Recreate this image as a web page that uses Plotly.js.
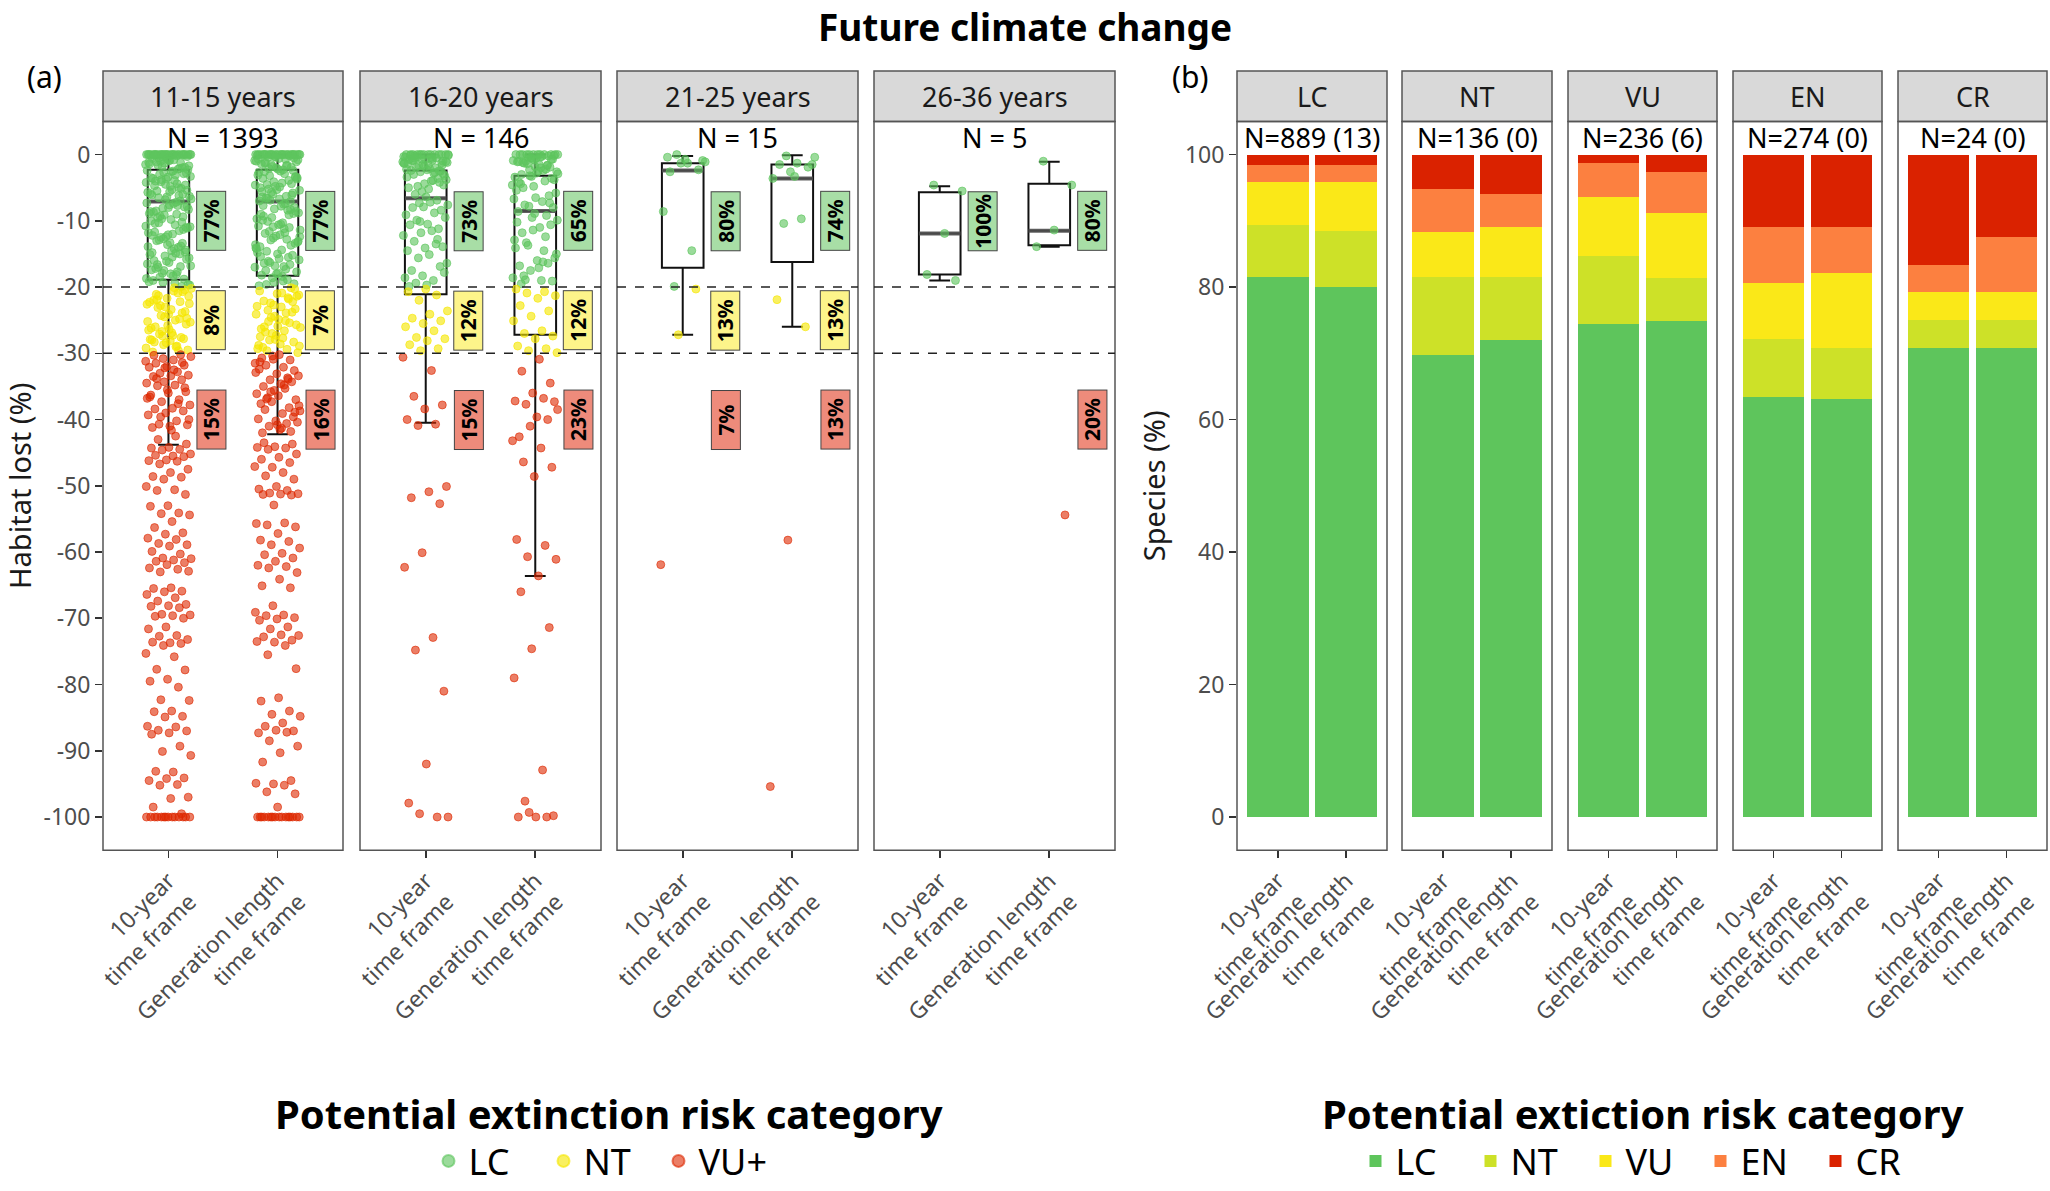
<!DOCTYPE html>
<html>
<head>
<meta charset="utf-8">
<script src="https://cdn.plot.ly/plotly-3.0.1.min.js"></script>
<style>html,body{margin:0;padding:0;background:#fff}#chart{width:2050px;height:1191px}</style>
</head>
<body>
<div id="chart"></div>
<script>
// ---------------- DATA ----------------
const timeframes = ['10-year<br>time frame', 'Generation length<br>time frame'];
const lengthGroups = ['11-15 years', '16-20 years', '21-25 years', '26-36 years'];
const groupN = ['N = 1393', 'N = 146', 'N = 15', 'N = 5'];
const riskCats = ['LC', 'NT', 'VU+'];
const thresholds = [-20, -30];
const lossTickVals = [0, -10, -20, -30, -40, -50, -60, -70, -80, -90, -100];
const lossTickText = ['0', '-10', '-20', '-30', '-40', '-50', '-60', '-70', '-80', '-90', '-100'];

// Habitat lost (%) per species (subset of readable points; dense bands estimated)
const loss_11_15_tf10 = [
 0,0,0,0,0,0,0,0,0,0,0,0,0,0,0,0,0,0,0,0,0,0,0,0,0,0,0,0,
 -0.2,-0.5,-0.3,-0.9,-0.6,-1.2,-0.4,-1.5,-0.8,-1.1,-1.9,-0.7,-1.4,-2.2,-1.0,-1.7,-2.6,-0.1,-2.0,-1.3,-2.4,-3.1,-1.6,-2.8,-0.9,-3.5,-2.1,-1.8,-3.3,-2.5,
 -4.0,-2.9,-3.7,-1.2,-4.4,-3.0,-2.3,-4.8,-3.6,-5.1,-2.7,-4.2,-3.9,-5.5,-4.6,-3.4,-5.9,-5.0,-4.1,-6.3,-5.3,-4.7,-6.0,-6.8,-5.7,-7.2,-6.5,-5.4,-7.6,-6.1,
 -7.0,-8.1,-6.7,-7.4,-8.5,-7.9,-6.4,-8.9,-7.7,-9.3,-8.3,-9.8,-8.7,-10.2,-9.1,-7.3,-10.6,-9.5,-11.0,-8.0,-10.0,-11.5,-9.7,-10.9,-12.0,-10.4,-11.3,-12.4,-11.8,-9.0,
 -12.9,-11.1,-13.3,-12.2,-13.8,-12.7,-10.8,-14.2,-13.0,-14.7,-13.6,-15.1,-14.0,-12.5,-15.6,-14.5,-16.0,-13.4,-15.3,-16.5,-14.9,-17.0,-15.8,-16.3,-17.4,-15.0,-17.9,-16.8,-18.3,-17.2,
 -18.8,-16.1,-19.2,-17.7,-18.5,-19.6,-18.0,-19.0,-19.9,-17.5,-18.7,-19.4,-16.6,-14.4,-12.1,-8.6,-6.2,-3.8,-19.7,-15.5,-11.7,-9.4,-4.5,-13.9,-18.1,-10.3,-7.8,-5.6,-14.8,-16.9,-19.3,
 -20.2,-20.6,-21.1,-20.4,-21.7,-22.3,-20.9,-22.8,-21.4,-23.4,-22.0,-23.9,-24.5,-22.6,-25.0,-23.1,-25.6,-24.1,-26.2,-24.8,-26.7,-25.3,-27.3,-26.0,-27.8,-28.4,-26.5,-28.9,-27.1,-29.5,
 -28.1,-29.8,-27.6,-28.7,-29.2,-20.1,-21.9,-23.7,-25.8,-27.9,-29.6,-24.3,-22.5,-26.9,-28.3,-20.7,-23.0,-25.2,-29.0,-21.3,-24.7,-26.4,-28.0,-22.2,-27.4,
 -30.5,-31.0,-31.5,-31.8,-32.0,-32.1,-32.8,-33.0,-33.3,-33.4,-33.5,-34.0,-34.3,-34.5,-34.8,-34.9,-35.8,-36.0,-36.3,-37.0,-37.3,-37.8,-38.3,-38.4,-38.7,-39.0,-39.3,-40.2,-40.7,-40.8,
 -41.0,-41.2,-30.2,-30.8,-31.2,-32.5,-33.8,-35.2,-35.5,-36.6,-37.6,-39.6,-40.0,-41.6,-30.3,-31.4,-32.2,-36.8,-42.5,-43.0,
 -43.7,-44.2,-44.3,-44.5,-44.6,-45.2,-45.5,-45.4,-45.6,-46.1,-46.2,-46.3,-46.7,-47.5,-48.0,-48.6,-48.7,-49.0,-50.1,-50.6,-50.7,-51.3,-53.0,-53.1,-54.1,-54.2,-54.4,-55.4,-56.3,-57.1,
 -57.3,-57.9,-58.1,-58.7,-58.9,-59.1,-59.9,-60.3,-60.9,-61.0,-61.2,-61.4,-61.6,-61.9,-62.4,-62.6,-63.0,-62.9,-65.4,-65.5,-65.9,-66.0,-66.4,-66.9,-67.4,-67.9,-68.1,-68.2,-68.4,-69.4,
 -69.5,-69.6,-69.7,-70.0,-71.3,-71.6,-72.6,-72.7,-73.2,-73.7,-73.6,-73.8,-74.1,-75.3,-75.8,-77.7,-77.8,-79.2,-79.5,-80.4,-82.3,-82.4,-84.0,-84.1,-84.8,-84.9,-86.3,-86.4,-86.9,-87.0,
 -87.3,-87.5,-89.3,-90.1,-90.7,-93.2,-93.1,-94.1,-94.2,-94.5,-95.1,-95.2,-97.0,-97.2,-98.5,-99.5,
 -100,-100,-100,-100,-100,-100,-100,-100,-100,-100,-100,-100,-100,-100
];
const loss_11_15_gen = [
 0,0,0,0,0,0,0,0,0,0,0,0,0,0,0,0,0,0,0,0,0,0,0,0,0,0,
 -0.3,-0.1,-0.7,-0.4,-1.1,-0.6,-1.4,-0.2,-1.8,-0.9,-2.3,-1.2,-0.5,-2.0,-2.7,-1.6,-3.2,-0.8,-2.5,-3.6,-1.9,-4.1,-1.0,-2.9,-4.5,-3.4,-2.2,-5.0,-3.9,-1.5,
 -5.4,-4.3,-2.6,-5.8,-4.8,-3.1,-6.3,-5.2,-3.7,-6.7,-5.6,-7.1,-6.0,-4.6,-7.5,-6.5,-8.0,-5.3,-7.0,-8.4,-6.9,-8.8,-7.8,-9.3,-6.1,-8.2,-9.7,-7.4,-10.1,-8.6,
 -10.6,-9.0,-11.0,-9.5,-11.4,-10.3,-11.9,-8.9,-12.3,-10.8,-12.8,-11.6,-13.2,-12.1,-9.9,-13.7,-12.6,-14.1,-11.2,-14.6,-13.4,-15.0,-13.9,-15.5,-12.9,-15.9,-14.4,-16.4,-15.2,-16.8,
 -14.8,-17.3,-16.1,-17.7,-15.7,-18.2,-16.6,-18.6,-17.0,-19.1,-17.5,-19.5,-18.0,-19.8,-18.9,-16.3,-13.1,-10.5,-7.7,-4.4,-19.3,-14.2,-11.8,-6.6,-3.3,-17.9,-15.4,-9.1,-5.7,-12.4,
 -18.4,-1.3,-2.4,-0.35,-0.65,-1.7,-2.1,-3.5,-4.9,-6.4,-8.3,-10.9,-13.6,-16.9,-19.6,
 -20.3,-21.0,-20.6,-21.6,-22.4,-21.2,-23.0,-22.1,-23.8,-24.4,-22.9,-25.1,-23.5,-25.7,-24.9,-26.3,-25.4,-27.0,-26.1,-27.7,-26.8,-28.3,-27.3,-28.8,-29.4,-28.0,-29.9,-28.6,-29.1,-20.1,
 -22.7,-24.1,-26.6,-29.6,-23.3,-25.9,-27.5,-21.8,-24.6,-28.9,-20.9,-26.0,-22.2,-27.9,-29.3,-23.9,-25.2,-21.4,
 -30.2,-30.7,-31.0,-30.4,-31.5,-32.1,-31.8,-32.6,-33.1,-32.4,-33.7,-34.0,-33.4,-34.6,-35.0,-34.3,-35.6,-36.1,-35.3,-36.7,-37.0,-36.4,-37.6,-38.2,-37.3,-38.7,-39.1,-38.5,-39.6,-40.2,
 -39.9,-40.6,-41.0,-40.4,-41.5,-42.0,-41.8,-30.9,-32.9,-34.8,-36.9,-38.9,-40.8,-31.3,-33.9,-35.8,-37.9,-41.3,
 -43.5,-43.7,-44.1,-44.2,-44.3,-44.5,-45.2,-45.7,-46.0,-46.5,-47.2,-47.1,-48.0,-48.5,-49.0,-50.1,-50.5,-50.7,-51.1,-51.2,-51.25,-51.3,-51.4,-52.9,-55.7,-55.6,-55.9,-56.2,-57.2,-58.2,
 -58.4,-58.9,-59.4,-60.2,-60.4,-60.9,-61.4,-62.0,-62.2,-62.4,-63.1,-64.1,-65.1,-65.4,-68.1,-69.1,-69.5,-69.6,-69.9,-70.1,-70.3,-71.3,-71.6,-72.6,-72.5,-72.8,-73.3,-73.6,-73.5,-74.1,
 -75.5,-77.6,-82.0,-82.5,-84.0,-84.5,-84.8,-85.8,-86.3,-87.0,-86.9,-87.3,-87.2,-88.5,-89.3,-90.3,-91.7,-94.5,-95.0,-94.9,-95.2,-96.2,-96.5,-98.5,
 -100,-100,-100,-100,-100,-100,-100,-100,-100,-100,-100,-100,-100,-100,-100,-100
];
const loss_16_20_tf10 = [
 0,0,0,0,0,0,0,0,0,0,0,0,0,0,
 -0.3,-0.6,-0.2,-1.0,-0.8,-1.4,-0.5,-1.7,-1.2,-2.1,-0.9,-2.5,-1.5,-0.4,-2.8,-1.9,-3.2,-2.3,-0.7,-3.6,-2.6,-1.1,-4.0,-3.0,-1.6,-4.4,-3.4,-2.0,-4.8,-3.8,
 -5.2,-2.4,-4.2,-5.6,-1.3,-3.9,-6.0,-4.6,-6.4,-5.0,
 -6.9,-7.3,-7.6,-7.2,-8.0,-8.4,-7.9,-9.1,-8.8,-9.9,-9.5,-10.5,-10.6,-11.2,-11.8,-12.2,-11.5,-13.1,-13.9,-14.1,-14.5,-13.5,-15.6,-16.4,-15.1,-17.5,-16.9,-18.3,-18.6,-19.0,
 -19.4,-17.8,-19.7,-19.9,-12.8,-10.1,
 -0.1,-0.45,-0.9,-1.25,-1.8,-2.2,-2.7,-0.35,-1.05,-1.55,-0.15,-2.45,-0.65,-1.35,-0.85,-0.55,-2.95,
 -20.3,-20.7,-21.2,-22.0,-23.6,-24.1,-24.7,-25.1,-25.5,-26.0,-26.6,-27.6,-27.8,-28.1,-28.7,-29.3,-29.6,
 -30.6,-32.6,-36.5,-37.8,-38.4,-40.0,-40.7,-40.9,-50.1,-50.9,-51.8,-52.7,-60.1,-62.3,-72.9,-74.8,-81.0,-92.0,-97.9,-100,-99.5,-100
];
const loss_16_20_gen = [
 0,0,0,0,0,0,0,0,0,0,0,0,
 -0.2,-0.5,-0.9,-0.3,-1.3,-0.7,-1.8,-1.1,-2.2,-0.4,-2.6,-1.5,-3.0,-1.9,-0.6,-3.4,-2.4,-1.0,-3.8,-2.8,-4.2,-1.6,-3.2,-4.6,-2.0,-5.0,-3.6,-0.8,-5.4,-4.0,
 -1.4,-5.8,-2.5,-4.4,-6.2,-3.3,
 -6.7,-7.1,-7.6,-8.0,-6.5,-8.6,-9.2,-7.8,-9.9,-11.0,-11.8,-10.6,-11.4,-14.1,-14.5,-13.3,-15.6,-16.0,-16.8,-16.4,-17.5,-18.6,-19.0,-18.3,-19.1,-8.9,-10.2,-12.4,-13.7,-15.0,
 -17.1,-19.5,-7.3,-9.5,-12.9,-16.2,-18.9,
 -0.15,-0.55,-1.05,-1.65,-2.3,-2.9,-0.35,-1.2,-0.75,-4.8,
 -20.3,-20.7,-20.9,-21.3,-21.7,-22.8,-23.6,-24.4,-25.1,-26.6,-27.0,-27.4,-27.8,-28.9,-29.3,-29.6,-29.9,
 -30.9,-32.7,-34.5,-36.0,-37.2,-36.8,-37.7,-37.3,-39.6,-42.6,-40.0,-41.0,-43.2,-44.3,-46.4,-47.2,-48.6,-58.1,-59.0,-60.7,-61.1,-63.6,-66.0,-71.4,-74.6,-79.0,-92.9,-97.6,-99.8,-100,
 -100,-100,-99.3,-38.5
];
const loss_21_25_tf10 = [0,-1.1,-1.3,-2.6,-2.3,-1.3,-8.6,-14.5,-19.9,-0.9,-0.7,-0.4,-20.3,-27.2,-61.9];
const loss_21_25_gen = [-0.2,-0.4,-1.3,-1.5,-1.9,-2.6,-3.6,-9.7,-10.4,-1.5,-3.3,-21.9,-26.0,-58.2,-95.4];
const loss_26_36_tf10 = [-4.6,-5.5,-11.9,-18.1,-19.0];
const loss_26_36_gen = [-1.0,-4.6,-11.4,-13.9,-54.4];

// Boxplot statistics (per length group, [10-year, generation length])
const boxLower = [[-43.8, -42.2], [-40.5, -63.6], [-27.2, -26.0], [-19.0, -13.9]];
const boxQ1 = [[-18.9, -18.3], [-21.1, -27.2], [-17.1, -16.2], [-18.1, -13.7]];
const boxMedian = [[-7.1, -7.1], [-6.6, -8.5], [-2.4, -3.6], [-11.9, -11.5]];
const boxQ3 = [[-2.3, -2.3], [-2.4, -3.2], [-1.3, -1.5], [-5.7, -4.4]];
const boxUpper = [[0, 0], [0, 0], [-0.2, -0.1], [-4.8, -1.1]];

// Percentage labels per length group, [10-year, generation length]
const pctLC = [['77%', '77%'], ['73%', '65%'], ['80%', '74%'], ['100%', '80%']];
const pctNT = [['8%', '7%'], ['12%', '12%'], ['13%', '13%'], ['', '']];
const pctVU = [['15%', '16%'], ['15%', '23%'], ['7%', '13%'], ['', '20%']];

// Panel (b): current IUCN category panels, share of species (%) per potential category
const currentCats = ['LC', 'NT', 'VU', 'EN', 'CR'];
const currentN = ['N=889 (13)', 'N=136 (0)', 'N=236 (6)', 'N=274 (0)', 'N=24 (0)'];
const potentialCats = ['LC', 'NT', 'VU', 'EN', 'CR'];
const shareLC = [[81.5, 80.0], [69.8, 72.0], [74.5, 74.9], [63.4, 63.1], [70.8, 70.8]];
const shareNT = [[7.9, 8.5], [11.7, 9.5], [10.2, 6.5], [8.7, 7.7], [4.2, 4.2]];
const shareVU = [[6.5, 7.4], [6.8, 7.5], [8.9, 9.8], [8.45, 11.3], [4.2, 4.2]];
const shareEN = [[2.6, 2.6], [6.5, 5.1], [5.06, 6.2], [8.45, 6.9], [4.2, 8.3]];
const shareCR = [[1.5, 1.5], [5.2, 5.9], [1.34, 2.6], [11.0, 11.0], [16.6, 12.5]];
const shareTicks = [0, 20, 40, 60, 80, 100];

// ---------------- STYLE / LAYOUT ----------------
const W = 2050, H = 1191;
const FONT = 'Noto Sans, Open Sans, DejaVu Sans, sans-serif';
const ptColors = ['rgba(94,197,94,0.62)', 'rgba(246,230,0,0.62)', 'rgba(222,40,0,0.6)'];
const barColors = ['#5ec55c', '#cde128', '#fae818', '#fc8040', '#da2200'];
const pctBg = ['#a8dea6', '#fdf48a', '#ee8b7b'];
const leftDomains = [[103, 343], [360, 601], [617, 858], [874, 1115]];
const rightDomains = [[1237, 1387], [1402, 1552], [1568, 1717], [1733, 1882], [1898, 2047]];
const plotTop = 123, plotBottom = 861, stripTop = 72;
const yDom = [1 - plotBottom / H, 1 - plotTop / H];
const lossData = [[loss_11_15_tf10, loss_11_15_gen], [loss_16_20_tf10, loss_16_20_gen],
                  [loss_21_25_tf10, loss_21_25_gen], [loss_26_36_tf10, loss_26_36_gen]];
const shares = [shareLC, shareNT, shareVU, shareEN, shareCR];
const TICK = 23, STRIP = 27, AXT = 29;

function jitter(i) { const f = (i * 0.6180339887 + 0.37) % 1; return (f - 0.5) * 0.42; }
function riskOf(v) { return v > thresholds[0] ? 0 : (v > thresholds[1] ? 1 : 2); }
function xName(k) { return k === 0 ? 'x' : 'x' + (k + 1); }

const traces = [];
const layout = {
  width: W, height: H,
  margin: {l: 0, r: 0, t: 0, b: 0, pad: 0},
  paper_bgcolor: '#fff', plot_bgcolor: '#fff',
  font: {family: FONT, color: '#000'},
  showlegend: true,
  barmode: 'stack',
  hovermode: false,
  title: {text: '<b>Future climate change</b>', x: 0.5, xanchor: 'center', xref: 'paper', yref: 'container',
          y: 1 - 28 / H, yanchor: 'middle', font: {size: 37, family: FONT, color: '#000'}},
  annotations: [], shapes: [],
  legend: {orientation: 'h', x: 601 / W, xanchor: 'center', y: 1 - 1176 / H, yanchor: 'middle',
           bgcolor: 'rgba(0,0,0,0)', font: {size: 36, family: FONT, color: '#000'},
           entrywidth: 70, itemsizing: 'constant', traceorder: 'normal'},
  legend2: {orientation: 'h', x: 1643 / W, xanchor: 'center', y: 1 - 1176 / H, yanchor: 'middle',
           bgcolor: 'rgba(0,0,0,0)', font: {size: 36, family: FONT, color: '#000'},
           entrywidth: 70, traceorder: 'normal'}
};

const xTickStyle = {
  range: [-0.6, 1.6], tickvals: [0, 1], ticktext: timeframes, tickangle: -45,
  ticks: 'outside', ticklen: 7, tickwidth: 1.6, tickcolor: '#333',
  tickfont: {size: TICK, color: '#4d4d4d', family: FONT},
  showgrid: false, zeroline: false, showline: false, fixedrange: true
};

// ---- Panel (a) ----
leftDomains.forEach((d, p) => {
  const xa = xName(p);
  layout[xa === 'x' ? 'xaxis' : 'xaxis' + (p + 1)] = Object.assign({}, xTickStyle, {domain: [d[0] / W, d[1] / W], anchor: 'y'});
  const cx = [[], [], []], cy = [[], [], []];
  lossData[p].forEach((arr, t) => {
    arr.forEach((v, i) => { const c = riskOf(v); cx[c].push(t + jitter(i)); cy[c].push(v); });
  });
  for (let c = 0; c < 3; c++) {
    traces.push({type: 'scatter', mode: 'markers', x: cx[c], y: cy[c], xaxis: xa, yaxis: 'y',
      name: riskCats[c], legendgroup: 'a' + c, showlegend: p === 0, legend: 'legend',
      marker: {size: 8, color: ptColors[c], line: {color: ptColors[c], width: 1}}});
  }
  traces.push({type: 'box', x: [0, 1], q1: boxQ1[p], median: boxMedian[p], q3: boxQ3[p],
    lowerfence: boxLower[p], upperfence: boxUpper[p], width: 0.38, boxpoints: false,
    xaxis: xa, yaxis: 'y', showlegend: false, fillcolor: 'rgba(0,0,0,0)', line: {color: '#111', width: 2}});
  traces.push({type: 'box', x: [0, 1], q1: boxMedian[p], median: boxMedian[p], q3: boxMedian[p],
    lowerfence: boxMedian[p], upperfence: boxMedian[p], width: 0.38, boxpoints: false,
    xaxis: xa, yaxis: 'y', showlegend: false, fillcolor: 'rgba(0,0,0,0)', line: {color: 'rgba(80,80,80,0.9)', width: 4}});
  layout.shapes.push({type: 'rect', xref: xa + ' domain', yref: 'paper', x0: 0, x1: 1,
    y0: 1 - plotTop / H, y1: 1 - stripTop / H, fillcolor: '#d9d9d9', line: {color: '#555', width: 1.5}});
  layout.shapes.push({type: 'rect', xref: xa + ' domain', yref: 'y domain', x0: 0, x1: 1, y0: 0, y1: 1,
    line: {color: '#555', width: 1.5}, layer: 'above'});
  thresholds.forEach(th => layout.shapes.push({type: 'line', xref: xa + ' domain', yref: 'y', x0: 0, x1: 1,
    y0: th, y1: th, line: {color: '#222', width: 1.6, dash: 'dash'}, layer: 'above'}));
  layout.annotations.push({xref: xa + ' domain', yref: 'paper', x: 0.5, y: 1 - 98 / H, text: lengthGroups[p],
    showarrow: false, font: {size: STRIP, color: '#1a1a1a'}, xanchor: 'center', yanchor: 'middle'});
  layout.annotations.push({xref: xa + ' domain', yref: 'paper', x: 0.5, y: 1 - 139 / H, text: groupN[p],
    showarrow: false, font: {size: STRIP, color: '#000'}, xanchor: 'center', yanchor: 'middle'});
  const labelY = [-10, -25, -40];
  [pctLC, pctNT, pctVU].forEach((lab, c) => {
    lab[p].forEach((txt, t) => {
      if (!txt) return;
      layout.annotations.push({xref: xa, yref: 'y', x: t + 0.39, y: labelY[c], text: '<b>' + txt + '</b>',
        textangle: -90, showarrow: false, bgcolor: pctBg[c], bordercolor: '#444', borderwidth: 1, borderpad: 2,
        width: 54, height: 24, align: 'center', valign: 'middle',
        font: {size: 21, color: '#000'}});
    });
  });
});
layout.yaxis = {domain: yDom, anchor: 'x', range: [-105, 5], tickvals: lossTickVals, ticktext: lossTickText,
  ticks: 'outside', ticklen: 7, tickwidth: 1.6, tickcolor: '#333', tickfont: {size: TICK, color: '#4d4d4d'},
  showgrid: false, zeroline: false, showline: false, fixedrange: true,
  title: {text: 'Habitat lost (%)', font: {size: AXT, color: '#1a1a1a'}, standoff: 10}};

// ---- Panel (b) ----
rightDomains.forEach((d, q) => {
  const k = 5 + q, xa = 'x' + k;
  layout['xaxis' + k] = Object.assign({}, xTickStyle, {domain: [d[0] / W, d[1] / W], anchor: 'y2'});
  shares.forEach((s, c) => {
    traces.push({type: 'bar', x: [0, 1], y: s[q], width: 0.9, xaxis: xa, yaxis: 'y2',
      name: potentialCats[c], legendgroup: 'b' + c, showlegend: q === 0, legend: 'legend2',
      marker: {color: barColors[c], line: {width: 0}}});
  });
  layout.shapes.push({type: 'rect', xref: xa + ' domain', yref: 'paper', x0: 0, x1: 1,
    y0: 1 - plotTop / H, y1: 1 - stripTop / H, fillcolor: '#d9d9d9', line: {color: '#555', width: 1.5}});
  layout.shapes.push({type: 'rect', xref: xa + ' domain', yref: 'y2 domain', x0: 0, x1: 1, y0: 0, y1: 1,
    line: {color: '#555', width: 1.5}, layer: 'above'});
  layout.annotations.push({xref: xa + ' domain', yref: 'paper', x: 0.5, y: 1 - 98 / H, text: currentCats[q],
    showarrow: false, font: {size: STRIP, color: '#1a1a1a'}, xanchor: 'center', yanchor: 'middle'});
  layout.annotations.push({xref: xa + ' domain', yref: 'paper', x: 0.5, y: 1 - 139 / H, text: currentN[q],
    showarrow: false, font: {size: STRIP, color: '#000'}, xanchor: 'center', yanchor: 'middle'});
});
layout.yaxis2 = {domain: yDom, anchor: 'x5', range: [-5, 105], tickvals: shareTicks,
  ticks: 'outside', ticklen: 7, tickwidth: 1.6, tickcolor: '#333', tickfont: {size: TICK, color: '#4d4d4d'},
  showgrid: false, zeroline: false, showline: false, fixedrange: true,
  title: {text: 'Species (%)', font: {size: AXT, color: '#1a1a1a'}, standoff: 10}};

// panel letters and legend titles
layout.annotations.push({xref: 'paper', yref: 'paper', x: 44 / W, y: 1 - 77 / H, text: '(a)', showarrow: false,
  font: {size: 30, color: '#000'}, xanchor: 'center', yanchor: 'middle'});
layout.annotations.push({xref: 'paper', yref: 'paper', x: 1190 / W, y: 1 - 77 / H, text: '(b)', showarrow: false,
  font: {size: 30, color: '#000'}, xanchor: 'center', yanchor: 'middle'});
layout.annotations.push({xref: 'paper', yref: 'paper', x: 609 / W, y: 1 - 1128 / H, showarrow: false,
  text: '<b>Potential extinction risk category</b>', font: {size: 40, color: '#000'}, xanchor: 'center', yanchor: 'middle'});
layout.annotations.push({xref: 'paper', yref: 'paper', x: 1643 / W, y: 1 - 1128 / H, showarrow: false,
  text: '<b>Potential extiction risk category</b>', font: {size: 40, color: '#000'}, xanchor: 'center', yanchor: 'middle'});

Plotly.newPlot('chart', traces, layout, {displayModeBar: false, staticPlot: true});
</script>
</body>
</html>
